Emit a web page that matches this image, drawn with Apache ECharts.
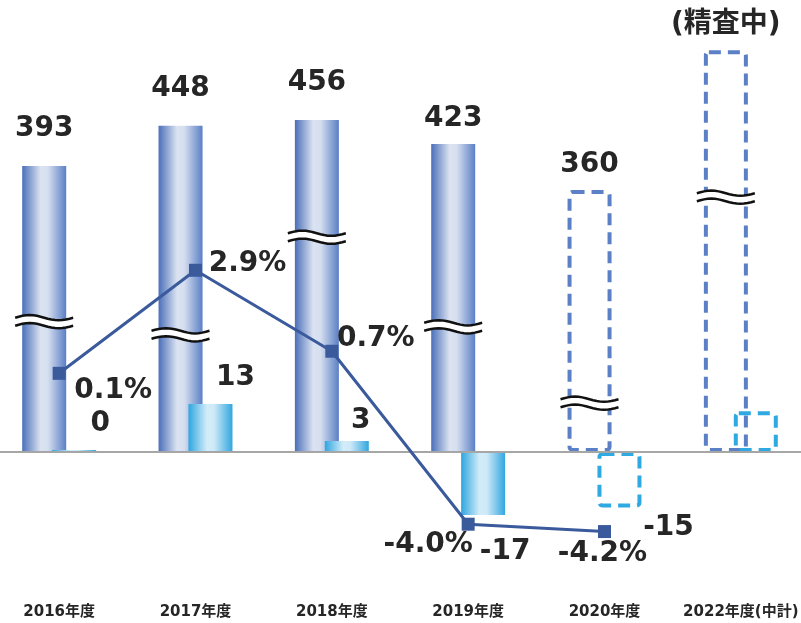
<!DOCTYPE html>
<html>
<head>
<meta charset="UTF-8">
<title>売上推移</title>
<script src="https://cdn.jsdelivr.net/npm/echarts@6/dist/echarts.min.js"></script>
<style>
  html, body { margin: 0; padding: 0; background: #fff; }
  #main { width: 801px; height: 623px; }
</style>
</head>
<body>
<div id="main"></div>
<script type="text/javascript">
// data
var categories = ['2016年度', '2017年度', '2018年度', '2019年度', '2020年度', '2022年度(中計)'];
var totalValues = [393, 448, 456, 423, 360, 552];
var totalLabels = ['393', '448', '456', '423', '360', '(精査中)'];
var changeValues = [0, 13, 3, -17, -15, 11];
var changeLabels = ['0', '13', '3', '-17', '-15', ''];
var rateValues = [0.1, 2.9, 0.7, -4.0, -4.2, null];
var plannedFlags = [false, false, false, false, true, true];
// where the "≈" break marks sit on the totals scale
var breakValues = [179, 161, 295, 172, 67, 350];

// label placement tweaks (style only)
var totalLabelDist = [23, 23, 23, 11, 11, 11];
var changeLabelOffset = [[26, -7], [25, -7], [14, -1], [22, 18], [49, 1], [0, 0]];
var rateLabelOffset = [[54, 17], [52, -7], [44, -13], [-40, 21], [-2, 22], [0, 0]];

var TEXT = '#262626';
var FONT = '"DejaVu Sans", "Noto Sans CJK JP", sans-serif';

// grid pixel layout
var gridTop = 40, gridBottom = 600, zeroY = 452, rateZeroY = 377;
var totalPx = 0.728, changePx = 3.7, ratePx = 36.8;

function grad(c0, c1, c2, c3) {
	return new echarts.graphic.LinearGradient(0, 0, 1, 0, [
		{ offset: 0, color: c0 },
		{ offset: 0.42, color: c1 },
		{ offset: 0.58, color: c2 },
		{ offset: 1, color: c3 }
	]);
}

var totalData = totalValues.map(function (v, i) {
	var item = {
		value: v,
		label: { show: true, position: 'top', distance: totalLabelDist[i], formatter: totalLabels[i] }
	};
	if (plannedFlags[i]) {
		item.itemStyle = {
			color: 'rgba(0,0,0,0)',
			borderColor: '#5b80c6',
			borderWidth: 4,
			borderType: [12, 7],
			borderRadius: 3
		};
	}
	return item;
});

var changeData = changeValues.map(function (v, i) {
	var item = {
		value: v,
		label: {
			show: changeLabels[i] !== '',
			position: v < 0 ? 'bottom' : 'top',
			offset: changeLabelOffset[i],
			formatter: changeLabels[i]
		}
	};
	if (plannedFlags[i]) {
		item.itemStyle = {
			color: 'rgba(0,0,0,0)',
			borderColor: '#2fa9e1',
			borderWidth: 4,
			borderType: [12, 7],
			borderRadius: 3
		};
	}
	return item;
});

var rateData = rateValues.map(function (v, i) {
	return {
		value: v,
		label: { show: v != null, position: 'inside', offset: rateLabelOffset[i] }
	};
});

var breakData = breakValues.map(function (v, i) { return [i, v]; });

function renderBreak(params, api) {
	var p = api.coord([api.value(0), api.value(1)]);
	var cx = p[0] - 15, cy = p[1];
	var w = 58, amp = 2.6, gap = 8, steps = 16;
	var top = [], bottom = [];
	for (var k = 0; k <= steps; k++) {
		var t = k / steps;
		var x = cx - w / 2 + t * w;
		var dy = -amp * Math.sin(2 * Math.PI * t);
		top.push([x, cy - gap / 2 + dy]);
		bottom.push([x, cy + gap / 2 + dy]);
	}
	return {
		type: 'group',
		children: [
			{ type: 'polygon', shape: { points: top.concat(bottom.slice().reverse()) }, style: { fill: '#fff' } },
			{ type: 'polyline', shape: { points: top }, style: { stroke: '#111', lineWidth: 2.5, fill: null } },
			{ type: 'polyline', shape: { points: bottom }, style: { stroke: '#111', lineWidth: 2.5, fill: null } }
		]
	};
}

var myChart = echarts.init(document.getElementById('main'), null, { renderer: 'canvas' });

var option = {
	backgroundColor: '#fff',
	animation: false,
	textStyle: { fontFamily: FONT },
	grid: {
		left: -9, right: -8, top: gridTop, bottom: 623 - gridBottom,
		containLabel: false, outerBoundsMode: 'none'
	},
	xAxis: {
		type: 'category',
		data: categories,
		axisLine: { show: false },
		axisTick: { show: false },
		axisLabel: { color: TEXT, fontSize: 15, fontWeight: 'bold', margin: 5, interval: 0, fontFamily: FONT }
	},
	yAxis: [
		{ type: 'value', show: false, splitLine: { show: false },
			min: -(gridBottom - zeroY) / totalPx, max: (zeroY - gridTop) / totalPx },
		{ type: 'value', show: false, splitLine: { show: false },
			min: -(gridBottom - zeroY) / changePx, max: (zeroY - gridTop) / changePx },
		{ type: 'value', show: false, splitLine: { show: false },
			min: -(gridBottom - rateZeroY) / ratePx, max: (rateZeroY - gridTop) / ratePx }
	],
	series: [
		{
			name: '売上',
			type: 'bar',
			yAxisIndex: 0,
			barWidth: 44,
			barGap: '-32%',
			itemStyle: { color: grad('#4a6fb9', '#dbe3f1', '#d6dff0', '#5b7fc5') },
			label: { color: TEXT, fontSize: 28, fontWeight: 'bold', fontFamily: FONT },
			data: totalData,
			z: 2
		},
		{
			name: '増減',
			type: 'bar',
			yAxisIndex: 1,
			barWidth: 44,
			barMinHeight: 2,
			itemStyle: { color: grad('#2ea6df', '#d3ecf9', '#cfe9f8', '#31a7de') },
			label: { color: TEXT, fontSize: 28, fontWeight: 'bold', fontFamily: FONT },
			data: changeData,
			markLine: {
				silent: true,
				symbol: 'none',
				label: { show: false },
				lineStyle: { color: '#a6a6a6', width: 2, type: 'solid' },
				data: [{ yAxis: 0 }]
			},
			z: 3
		},
		{
			name: 'break',
			type: 'custom',
			yAxisIndex: 0,
			renderItem: renderBreak,
			data: breakData,
			z: 4
		},
		{
			name: '伸び率',
			type: 'line',
			yAxisIndex: 2,
			symbol: 'rect',
			symbolSize: 13,
			lineStyle: { color: '#3a5a9c', width: 3 },
			itemStyle: { color: '#3a5a9c' },
			label: {
				color: TEXT, fontSize: 28, fontWeight: 'bold', fontFamily: FONT,
				formatter: function (p) { return p.value.toFixed(1) + '%'; }
			},
			data: rateData,
			z: 5
		}
	]
};

myChart.setOption(option, true);
</script>
</body>
</html>
